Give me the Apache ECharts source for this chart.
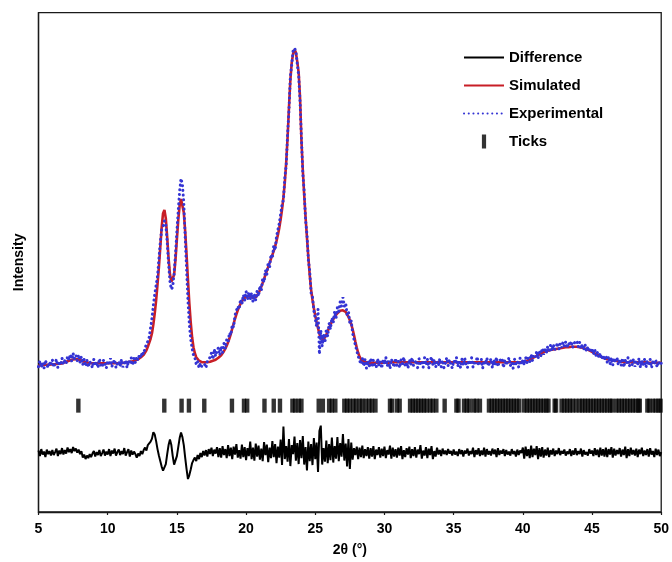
<!DOCTYPE html>
<html>
<head>
<meta charset="utf-8">
<script src="https://cdn.jsdelivr.net/npm/echarts@6/dist/echarts.min.js"></script>
<style>
html,body{margin:0;padding:0;background:#fff;}
#chart{width:672px;height:562px;}
</style>
</head>
<body>
<div id="chart"></div>
<script>
// 2θ sampling grid for the profile arrays
const START_2THETA = 5.0;
const STEP_2THETA = 0.1;

// Simulated profile (red), one row per degree
const simulated = [
29.4,29.4,29.4,29.4,29.5,29.5,29.5,29.5,29.5,29.6,
29.6,29.6,29.6,29.6,29.7,29.7,29.7,29.8,29.9,30.0,
30.1,30.2,30.3,30.4,30.5,30.6,30.6,30.6,30.6,30.5,
30.4,30.3,30.2,30.1,30.0,29.9,29.9,29.8,29.8,29.8,
29.8,29.8,29.8,29.8,29.8,29.8,29.8,29.8,29.8,29.8,
29.8,29.8,29.8,29.8,29.8,29.8,29.8,29.8,29.8,29.8,
29.8,29.8,29.9,29.9,30.0,30.0,30.1,30.1,30.2,30.3,
30.4,30.5,30.6,30.8,31.0,31.2,31.5,31.9,32.4,33.1,
33.9,34.7,35.8,37.6,39.8,42.4,45.6,49.0,53.0,57.0,
59.8,60.5,58.8,55.0,50.8,47.6,46.1,46.0,47.5,50.6,
54.6,58.5,61.4,62.7,62.3,60.0,56.2,51.5,46.5,41.8,
38.0,35.0,33.0,31.8,31.0,30.6,30.3,30.1,30.0,30.0,
30.0,30.0,30.0,30.1,30.1,30.2,30.3,30.4,30.5,30.7,
30.9,31.1,31.4,31.8,32.2,32.7,33.3,34.0,34.8,35.7,
36.7,37.7,38.7,39.6,40.4,41.1,41.7,42.2,42.6,42.9,
43.1,43.2,43.2,43.1,43.0,42.9,42.9,43.0,43.3,43.8,
44.4,45.1,45.9,46.7,47.5,48.3,49.1,49.9,50.7,51.5,
52.3,53.2,54.3,55.5,56.9,58.6,60.6,63.0,66.0,70.0,
75.0,81.0,86.5,90.0,91.8,92.6,92.0,90.2,88.0,83.0,
74.5,68.5,63.5,59.0,55.0,51.0,47.5,44.5,42.5,40.8,
39.3,38.0,36.8,35.7,34.9,34.5,34.5,34.9,35.5,36.2,
36.9,37.5,38.1,38.6,39.1,39.5,39.8,40.1,40.3,40.4,
40.4,40.3,40.1,39.7,39.1,38.4,37.6,36.6,35.4,34.1,
32.9,31.9,31.1,30.6,30.3,30.1,30.0,30.0,29.9,29.9,
29.9,29.9,29.9,29.9,29.9,29.9,29.9,29.9,29.9,29.9,
29.9,29.9,29.9,29.9,30.0,30.0,30.0,30.0,30.0,30.0,
30.0,30.0,30.0,30.0,30.0,30.0,30.0,30.0,30.0,30.0,
30.0,30.0,30.0,30.0,30.0,30.0,30.0,30.0,30.0,30.0,
30.0,30.0,30.0,30.0,30.0,30.0,30.0,30.0,30.0,30.0,
30.0,30.0,30.0,30.0,30.0,30.0,30.0,30.0,30.0,30.0,
30.0,30.0,30.0,30.0,30.0,30.0,30.0,30.0,30.0,30.0,
30.0,30.0,30.0,30.0,30.0,30.0,30.0,30.0,30.0,30.0,
30.0,30.0,30.0,30.0,30.0,30.0,30.0,30.0,30.0,30.0,
30.0,30.0,30.0,30.0,30.0,30.0,30.0,30.0,30.0,30.0,
30.0,30.0,30.0,30.0,30.0,30.0,30.0,30.0,30.0,30.0,
30.1,30.1,30.2,30.3,30.4,30.5,30.7,30.8,31.0,31.1,
31.3,31.4,31.6,31.7,31.9,32.0,32.1,32.2,32.3,32.4,
32.5,32.5,32.6,32.6,32.7,32.7,32.8,32.8,32.9,32.9,
33.0,33.0,33.0,33.0,33.1,33.1,33.1,33.1,33.1,33.1,
33.0,33.0,32.9,32.9,32.8,32.7,32.6,32.5,32.4,32.2,
32.1,31.9,31.8,31.6,31.5,31.3,31.1,31.0,30.9,30.8,
30.7,30.6,30.5,30.5,30.4,30.4,30.3,30.3,30.2,30.2,
30.1,30.1,30.1,30.0,30.0,30.0,30.0,30.0,30.0,30.0,
30.0,30.0,30.0,30.0,30.0,30.0,30.0,30.0,30.0,30.0,
29.9,29.9,29.9,29.9,29.9,29.9,29.9,29.9,29.9,29.9,
29.9
];

// Experimental profile (blue dotted), one row per degree
const experimental = [
29.1,30.3,29.0,29.9,28.8,30.4,29.5,28.9,30.1,29.3,
30.5,29.0,29.8,30.6,28.9,30.2,29.4,30.8,29.6,30.3,
29.7,31.2,30.4,31.6,30.2,31.8,30.7,31.4,30.3,31.5,
30.0,31.1,29.5,30.6,29.2,30.4,29.0,30.2,29.6,28.9,
30.6,29.3,30.1,28.9,30.7,29.5,29.0,30.4,29.7,28.8,
30.3,29.4,30.8,29.1,29.9,30.5,28.9,29.6,30.2,29.2,
30.6,29.0,29.7,30.4,28.9,30.3,29.6,30.9,29.4,30.8,
29.9,31.1,30.4,31.6,30.9,32.1,31.6,32.9,32.6,34.2,
35.0,36.9,38.8,41.4,43.6,45.4,47.2,50.6,54.0,56.5,
57.2,58.3,57.5,54.1,49.6,46.2,44.6,45.1,47.8,51.6,
56.2,60.4,64.3,66.8,65.6,61.8,55.0,48.6,42.3,37.6,
34.6,32.8,31.4,30.9,29.6,30.2,28.9,29.8,29.1,28.7,
29.6,28.9,30.2,29.8,31.0,31.9,30.6,32.6,31.2,32.3,
32.9,31.4,33.2,32.0,33.8,32.7,34.5,34.0,35.9,35.4,
37.5,37.0,39.4,39.0,41.2,40.6,42.6,41.6,43.5,42.4,
44.2,42.5,44.0,42.6,43.9,42.1,43.6,42.4,44.3,43.2,
45.3,44.3,46.8,46.0,48.4,47.5,50.0,48.9,51.6,50.8,
53.4,52.4,55.2,54.9,57.8,58.2,61.6,62.5,67.0,69.4,
75.6,80.4,87.2,89.6,92.4,92.9,92.3,89.7,87.5,82.2,
74.9,67.8,64.2,58.4,55.6,50.5,48.2,43.8,43.1,40.3,
39.9,37.1,40.6,31.6,36.4,33.2,35.6,33.9,36.7,35.2,
37.8,36.6,38.9,37.9,40.2,38.8,41.0,40.2,42.1,41.2,
43.0,41.2,41.8,39.6,40.2,37.7,38.3,35.8,36.2,33.4,
33.6,31.2,31.6,29.6,30.8,29.2,30.6,28.8,30.3,29.2,
30.8,29.0,30.4,29.5,28.9,30.7,29.3,30.1,28.8,30.5,
29.6,31.0,29.2,30.3,28.7,30.6,29.9,29.0,30.8,29.4,
30.2,28.9,30.5,29.7,31.0,29.1,30.0,28.8,30.6,29.5,
30.9,29.3,29.8,30.4,28.9,30.7,29.6,30.1,29.0,30.9,
29.4,30.6,28.8,30.2,31.1,29.5,30.5,29.0,30.0,29.3,
30.7,29.1,30.4,28.9,29.8,30.9,29.3,30.5,29.6,28.8,
30.3,29.7,31.0,29.2,30.1,28.9,30.6,29.4,30.8,29.6,
28.9,30.4,29.5,30.9,29.0,30.2,29.7,31.1,29.3,30.0,
30.6,28.8,30.3,29.6,30.9,29.2,29.9,30.7,28.9,30.4,
29.5,31.0,29.1,30.2,29.8,30.8,28.9,30.5,29.4,30.1,
30.9,29.3,30.0,28.8,30.6,29.7,30.3,29.0,30.8,29.6,
30.4,29.5,31.0,29.9,30.9,30.1,31.6,30.3,31.5,31.0,
32.1,30.7,32.4,31.2,32.8,31.5,32.9,31.8,33.2,32.0,
33.4,32.3,33.6,32.5,33.0,33.9,32.6,33.7,32.9,34.0,
33.2,34.1,32.8,33.9,33.3,34.2,32.9,33.8,33.5,34.3,
33.1,34.0,32.7,33.6,32.4,33.5,32.2,33.1,32.9,32.0,
32.8,31.6,32.5,31.2,32.0,30.9,31.8,30.6,31.4,30.4,
31.3,30.0,31.1,29.6,30.9,29.4,30.8,29.9,31.0,29.5,
30.6,29.3,30.8,29.0,30.4,29.7,30.9,29.2,30.3,29.5,
30.7,29.1,30.2,29.6,30.8,28.9,30.3,29.4,30.6,29.0,
30.4,29.3,30.6,28.9,30.1,29.6,30.5,29.0,30.2,29.4,
29.8
];

// Difference curve (black), one row per degree
const difference = [
12.3,11.2,12.6,11.5,12.1,11.0,12.5,11.6,12.2,11.3,
12.4,11.4,12.0,12.7,11.2,12.3,11.6,12.8,11.5,12.4,
11.7,12.9,12.0,12.6,11.8,13.0,12.2,12.7,11.9,12.5,
11.6,12.2,10.9,11.5,10.6,11.3,10.8,11.6,11.0,11.7,
12.2,11.1,12.0,11.4,12.4,11.2,11.8,12.5,11.3,12.1,
11.5,12.6,11.2,12.3,11.7,12.7,11.3,12.0,12.5,11.4,
12.2,11.6,12.8,11.3,12.0,12.6,11.1,12.3,11.5,12.1,
11.6,10.9,11.7,11.2,12.2,11.6,12.4,12.9,12.3,13.4,
13.0,14.1,14.7,16.0,15.5,14.2,12.6,11.3,10.2,9.1,
8.3,8.6,9.6,11.6,13.4,14.5,13.4,11.2,9.5,9.6,
11.2,13.0,14.8,15.9,15.0,13.4,10.9,8.6,6.6,7.4,
8.5,9.8,10.4,10.9,10.2,11.4,10.6,11.8,11.0,12.2,
11.3,12.4,11.1,12.6,11.6,12.9,11.2,12.5,11.7,13.0,
11.0,12.8,10.9,13.2,11.4,12.6,10.8,13.4,11.2,12.9,
10.6,13.1,11.5,13.6,10.9,12.4,10.7,13.5,11.0,13.0,
10.4,12.8,11.2,14.1,10.6,12.9,10.3,13.7,11.1,13.3,
10.5,12.7,10.2,14.0,11.4,13.5,10.0,12.9,10.8,14.2,
11.0,13.6,9.8,13.1,10.9,14.5,9.4,17.1,10.6,13.2,
10.1,14.6,9.2,13.4,11.6,15.1,10.3,13.8,9.6,14.4,
10.8,15.2,9.5,13.0,8.3,14.1,10.2,13.6,9.4,14.8,
10.6,13.9,8.0,16.2,17.3,9.5,12.8,10.1,14.3,9.8,
13.6,10.4,14.9,9.9,13.2,10.7,15.0,10.2,13.8,11.1,
15.6,10.3,13.7,9.1,14.6,8.6,13.9,10.5,12.8,11.4,
13.1,10.6,12.9,11.0,13.3,10.8,12.6,11.2,13.0,10.7,
12.8,11.1,13.2,10.6,12.5,11.4,13.0,10.9,12.7,11.2,
13.1,10.8,12.4,11.5,13.3,10.7,12.9,11.1,12.6,10.9,
12.9,11.3,13.2,10.6,12.4,11.0,12.8,11.5,13.1,10.8,
12.6,11.2,13.0,10.9,12.5,11.6,13.4,10.7,12.3,11.3,
13.0,10.8,12.7,11.4,13.2,10.6,12.2,11.1,12.9,11.5,
12.4,11.2,12.7,11.6,12.3,11.4,12.6,11.7,12.2,11.3,
12.5,11.5,12.1,11.2,12.6,11.6,12.4,11.1,12.3,11.7,
12.7,11.3,12.2,11.6,12.9,11.0,12.4,11.5,12.8,11.2,
12.3,11.4,12.9,11.1,12.6,11.5,12.2,11.3,12.7,11.6,
12.5,11.0,12.8,11.4,12.3,11.7,12.6,11.2,12.4,11.5,
12.1,11.3,12.6,11.6,12.2,11.1,12.5,11.4,12.3,11.8,
12.9,10.7,13.1,11.2,12.6,10.8,13.3,11.0,12.7,11.4,
13.2,10.6,12.8,11.1,13.0,10.9,12.5,11.3,12.9,11.0,
12.4,11.5,12.7,11.2,12.3,11.6,12.8,11.4,12.2,11.7,
12.5,11.3,12.1,11.6,12.6,11.2,12.3,11.5,12.8,11.4,
12.2,11.6,12.7,11.1,12.4,11.5,12.0,11.3,12.6,11.7,
12.3,11.2,12.8,11.4,12.5,11.0,12.9,11.3,12.6,11.1,
12.9,11.0,12.6,11.5,13.0,10.9,12.7,11.3,12.4,11.6,
12.8,11.1,12.5,11.4,13.1,10.8,12.6,11.2,12.9,11.5,
12.4,11.3,12.7,11.0,12.5,11.6,12.9,11.2,12.3,11.4,
12.6,11.1,12.8,11.5,12.2,11.0,12.7,11.4,12.5,11.2,
12.0
];

// Reflection (tick) positions in 2θ
const tickPositions = [
7.88, 14.09, 15.34, 15.87, 16.98, 18.98, 19.85, 20.08, 21.33, 22.0, 22.45,
23.35, 23.55, 23.8, 24.0, 25.25, 25.55, 26.0, 26.2, 26.45,
27.1, 27.3, 27.5, 27.75, 27.95, 28.2, 28.4, 28.65, 28.9, 29.1, 29.35,
30.4, 30.55, 30.9, 31.1,
31.85, 32.05, 32.25, 32.45, 32.65, 32.85, 33.05, 33.3, 33.5, 33.75,
34.35, 35.2, 35.35, 35.75, 35.95, 36.15, 36.45, 36.65, 36.9,
37.55, 37.75, 37.95, 38.15, 38.35, 38.55, 38.75, 38.95, 39.15, 39.35, 39.55, 39.75,
40.1, 40.3, 40.5, 40.7, 40.9, 41.1, 41.3, 41.5, 41.7, 41.85,
42.3, 42.4, 42.8, 43.0, 43.2, 43.4, 43.6, 43.85,
44.1, 44.3, 44.5, 44.7, 44.9, 45.1, 45.3, 45.5, 45.7, 45.9, 46.1, 46.3, 46.45,
46.75, 46.95, 47.15, 47.35, 47.55, 47.75, 47.95, 48.15, 48.35, 48.45,
49.0, 49.15, 49.4, 49.6, 49.8, 49.95
];
const tickRowLevel = 21.3;

// x-axis tick labels
const xTicks = [5, 10, 15, 20, 25, 30, 35, 40, 45, 50];

const FONT = '"Liberation Sans", Arial, Helvetica, sans-serif';

function pair(arr) {
  return arr.map((v, i) => [+(START_2THETA + i * STEP_2THETA).toFixed(2), v]);
}

const hiddenMarker = {opacity: 0, borderWidth: 0};

const chart = echarts.init(document.getElementById('chart'), null, {renderer: 'canvas'});
chart.setOption({
  animation: false,
  backgroundColor: '#ffffff',
  grid: {
    left: 38.5, right: 10.5, top: 12.7, bottom: 47.7,
    show: true, borderColor: '#1a1a1a', borderWidth: 1.3
  },
  legend: {
    orient: 'vertical',
    left: 463, top: 50,
    padding: 0,
    itemWidth: 40, itemHeight: 14, itemGap: 13,
    textStyle: {fontFamily: FONT, fontWeight: 'bold', fontSize: 15, color: '#000'},
    data: [
      {name: 'Difference', itemStyle: hiddenMarker},
      {name: 'Simulated', itemStyle: hiddenMarker},
      {name: 'Experimental', itemStyle: hiddenMarker},
      {name: 'Ticks', icon: 'path://M0,0L3.6,0L3.6,12L0,12Z'}
    ],
    selectedMode: false
  },
  xAxis: {
    type: 'value',
    min: xTicks[0], max: xTicks[xTicks.length - 1], interval: 5,
    name: '2θ (°)', nameLocation: 'middle', nameGap: 31,
    nameTextStyle: {fontFamily: FONT, fontWeight: 'bold', fontSize: 14, color: '#000'},
    axisLine: {show: true, lineStyle: {color: '#1a1a1a', width: 1.3}},
    axisTick: {show: true, inside: false, length: 3, lineStyle: {color: '#1a1a1a', width: 1.2}},
    axisLabel: {fontFamily: FONT, fontWeight: 'bold', fontSize: 14, color: '#000', margin: 10},
    splitLine: {show: false}
  },
  yAxis: {
    type: 'value', min: 0, max: 100,
    name: 'Intensity', nameLocation: 'middle', nameGap: 12, nameRotate: 90,
    nameTextStyle: {fontFamily: FONT, fontWeight: 'bold', fontSize: 14, color: '#000'},
    axisLine: {show: true, lineStyle: {color: '#1a1a1a', width: 1.3}},
    axisTick: {show: false},
    axisLabel: {show: false},
    splitLine: {show: false}
  },
  series: [
    {
      name: 'Simulated', type: 'line', data: pair(simulated),
      symbol: 'none', smooth: false, z: 2,
      lineStyle: {color: '#c81e26', width: 2.6},
      itemStyle: {color: '#c81e26'}
    },
    {
      name: 'Experimental', type: 'line', data: pair(experimental),
      symbol: 'none', z: 3,
      lineStyle: {color: '#3434d4', width: 3.0, type: [0.1, 4.6], cap: 'round'},
      itemStyle: {color: '#3434d4'}
    },
    {
      name: 'Difference', type: 'line', data: pair(difference),
      symbol: 'none', z: 3,
      lineStyle: {color: '#000', width: 2.0},
      itemStyle: {color: '#000'}
    },
    {
      name: 'Ticks', type: 'scatter',
      data: tickPositions.map(p => [p, tickRowLevel]),
      symbol: 'rect', symbolSize: [4.4, 14], z: 4,
      itemStyle: {color: '#000'}
    }
  ]
});
</script>
</body>
</html>
